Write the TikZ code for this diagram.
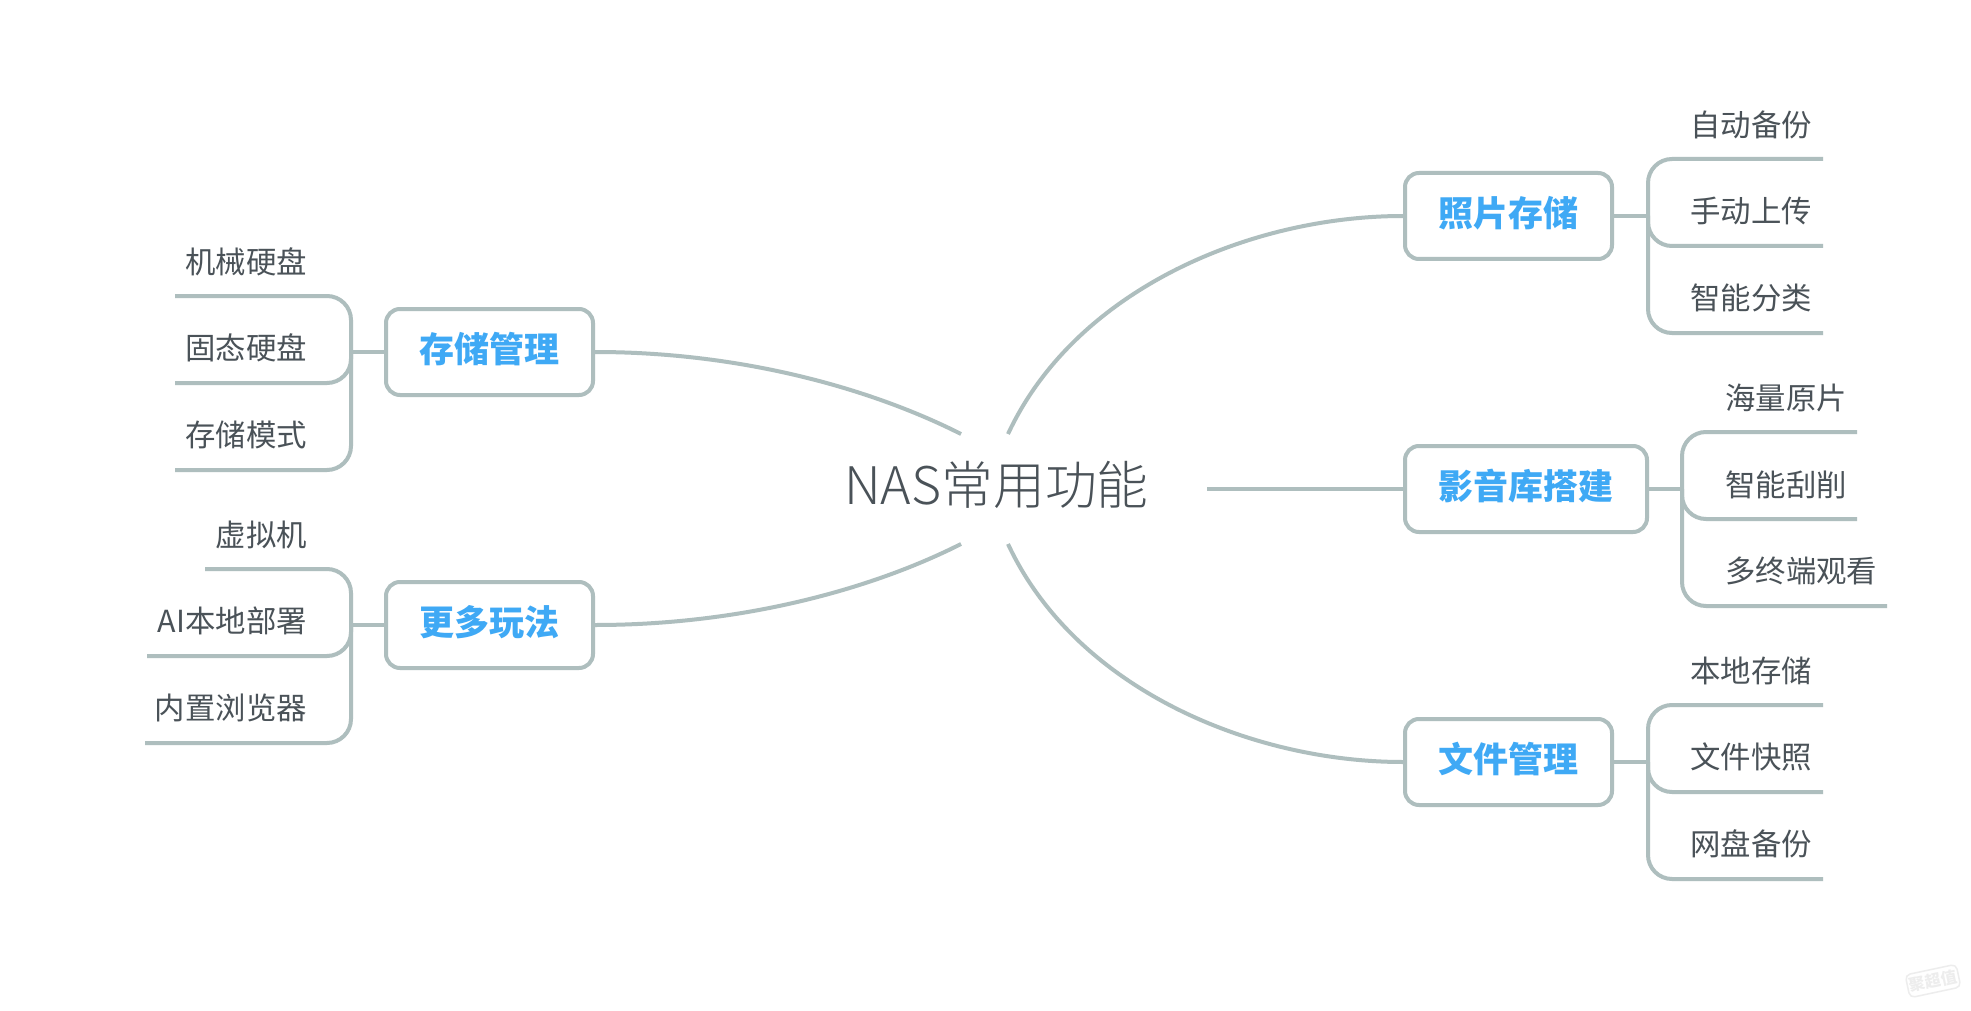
\documentclass[tikz,border=0pt]{standalone}
\usepackage{fontspec}
\setmainfont{Noto Sans CJK SC}
\newfontfamily\lightcjk[UprightFont=* Light]{Noto Sans CJK SC}
\definecolor{linec}{HTML}{AEBEBE}
\definecolor{textc}{HTML}{4A5258}
\definecolor{bluec}{HTML}{3FA9F5}
\definecolor{markc}{HTML}{EDEDED}
\tikzset{
  conn/.style={draw=linec,line width=4pt,line cap=butt},
  elbow/.style={conn,rounded corners=24pt},
  topic/.style={draw=linec,line width=4pt,rounded corners=14pt,fill=white,minimum height=86pt,inner xsep=0pt,text height=21.6pt,text depth=0pt,text=bluec,font=\fontsize{35}{42}\selectfont\bfseries},
  leafr/.style={text=textc,inner sep=0pt,anchor=west,font=\fontsize{30.4}{37}\selectfont},
  leafl/.style={text=textc,inner sep=0pt,anchor=east,font=\fontsize{30.4}{37}\selectfont},
  root/.style={text=textc,inner sep=0pt,font=\lightcjk\fontsize{51.8}{60}\selectfont}
}
\begin{document}
\begin{tikzpicture}[x=1pt,y=-1pt]
\useasboundingbox (0,0) rectangle (1971,1011);
\fill[white] (0,0) rectangle (1971,1011);
% root
\node[root] (root) at (996.5,485) {NAS常用功能};
\coordinate (rNE) at (1008,434);
\coordinate (rSE) at (1008,544);
\coordinate (rNW) at (961,434);
\coordinate (rSW) at (961,544);
\coordinate (rE) at (1207,489);
% topics
\node[topic,minimum width=207pt] (t1) at (1508.5,216) {照片存储};
\node[topic,minimum width=242pt] (t2) at (1526,489) {影音库搭建};
\node[topic,minimum width=207pt] (t3) at (1508.5,762) {文件管理};
\node[topic,minimum width=207pt] (t4) at (489.5,352) {存储管理};
\node[topic,minimum width=207pt] (t5) at (489.5,625) {更多玩法};
% main curves
\draw[conn] (t1.west) .. controls (1250,216) and (1075,290) .. (rNE);
\draw[conn] (t3.west) .. controls (1250,762) and (1075,688) .. (rSE);
\draw[conn] (rE) -- (t2.west);
\draw[conn] (t4.east) .. controls (740,352) and (870,388) .. (rNW);
\draw[conn] (t5.east) .. controls (740,625) and (870,590) .. (rSW);
% junctions
\coordinate (j1) at (1648,216);
\coordinate (j2) at (1682,489);
\coordinate (j3) at (1648,762);
\coordinate (j4) at (351,352);
\coordinate (j5) at (351,625);
% underline ends
\coordinate (e1a) at (1823,159); \coordinate (e1b) at (1823,246); \coordinate (e1c) at (1823,333);
\coordinate (e2a) at (1857,432); \coordinate (e2b) at (1857,519); \coordinate (e2c) at (1887,606);
\coordinate (e3a) at (1823,705); \coordinate (e3b) at (1823,792); \coordinate (e3c) at (1823,879);
\coordinate (e4a) at (175,296); \coordinate (e4b) at (175,383); \coordinate (e4c) at (175,470);
\coordinate (e5a) at (205,569); \coordinate (e5b) at (147,656); \coordinate (e5c) at (145,743);
% stems and elbows
\draw[conn] (t1.east) -- (j1);
\draw[elbow] (j1) |- (e1a);
\draw[elbow] (j1) |- (e1b);
\draw[elbow] (j1) |- (e1c);
\draw[conn] (t2.east) -- (j2);
\draw[elbow] (j2) |- (e2a);
\draw[elbow] (j2) |- (e2b);
\draw[elbow] (j2) |- (e2c);
\draw[conn] (t3.east) -- (j3);
\draw[elbow] (j3) |- (e3a);
\draw[elbow] (j3) |- (e3b);
\draw[elbow] (j3) |- (e3c);
\draw[conn] (t4.west) -- (j4);
\draw[elbow] (j4) |- (e4a);
\draw[elbow] (j4) |- (e4b);
\draw[elbow] (j4) |- (e4c);
\draw[conn] (t5.west) -- (j5);
\draw[elbow] (j5) |- (e5a);
\draw[elbow] (j5) |- (e5b);
\draw[elbow] (j5) |- (e5c);
% leaves
\node[leafr] (l1a) at (1690,125) {自动备份};
\node[leafr] (l1b) at (1690,211) {手动上传};
\node[leafr] (l1c) at (1690,298) {智能分类};
\node[leafr] (l2a) at (1725,398) {海量原片};
\node[leafr] (l2b) at (1725,484.5) {智能刮削};
\node[leafr] (l2c) at (1725,571) {多终端观看};
\node[leafr] (l3a) at (1690,671) {本地存储};
\node[leafr] (l3b) at (1690,757) {文件快照};
\node[leafr] (l3c) at (1690,844) {网盘备份};
\node[leafl] (l4a) at (307,261.5) {机械硬盘};
\node[leafl] (l4b) at (307,348) {固态硬盘};
\node[leafl] (l4c) at (307,435) {存储模式};
\node[leafl] (l5a) at (307,534.5) {虚拟机};
\node[leafl] (l5b) at (307,621) {AI本地部署};
\node[leafl] (l5c) at (307,708) {内置浏览器};
% watermark
\node[draw=markc,line width=1.5pt,rounded corners=5pt,text=markc,rotate=12,inner xsep=2pt,inner ysep=4pt,font=\fontsize{16}{19}\selectfont\bfseries] (wm) at (1933,981) {聚超值};
\end{tikzpicture}
\end{document}
